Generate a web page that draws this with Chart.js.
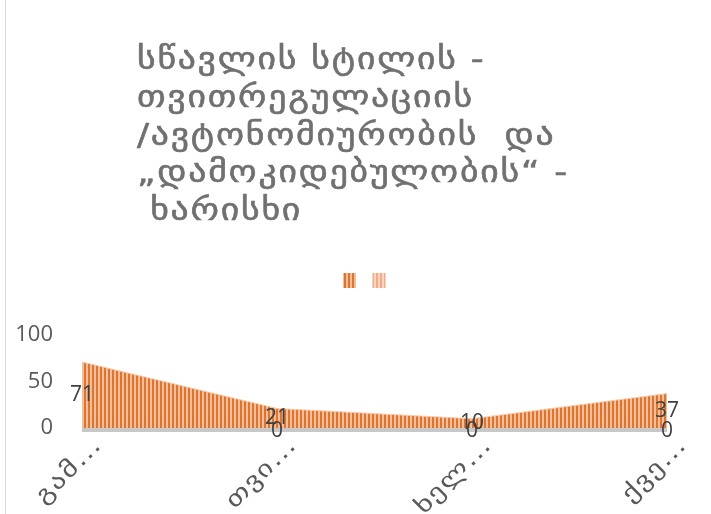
<!DOCTYPE html>
<html>
<head>
<meta charset="utf-8">
<script src="https://cdn.jsdelivr.net/npm/chart.js@4.4.1/dist/chart.umd.min.js"></script>
<style>
  html, body { margin: 0; padding: 0; background: #fff; }
  .wrap { position: relative; width: 711px; height: 514px; }
  .wrap::before { content: ''; position: absolute; left: 5px; top: 0; bottom: 0; width: 1px; background: #d9d9d9; }
</style>
</head>
<body>
<div class="wrap"><canvas id="chart" width="711" height="514"></canvas></div>
<script>
const titleLines = ['სწავლის სტილის -', 'თვითრეგულაციის', '/ავტონომიურობის  და', '„დამოკიდებულობის“ -', ' ხარისხი'];
const categories = ['გამ…', 'თვი…', 'ხელ…', 'ქვე…'];
const seriesMain = [71, 21, 10, 37];
const seriesSecond = [0, 0, 0, 0];
const yTicks = [0, 50, 100];

const textGrey = '#595959';

// vertical stripe fill like the office pattern
const stripes = (dark, light) => {
  const tile = document.createElement('canvas');
  tile.width = 4;
  tile.height = 4;
  const g = tile.getContext('2d');
  g.fillStyle = light;
  g.fillRect(0, 0, 4, 4);
  g.fillStyle = dark;
  g.fillRect(0, 0, 2, 4);
  return g.createPattern(tile, 'repeat');
};

const titleBlock = {
  id: 'titleBlock',
  beforeDraw: (chart) => {
    const { ctx } = chart;
    ctx.save();
    ctx.font = '30px "DejaVu Sans"';
    ctx.letterSpacing = '1.5px';
    ctx.fillStyle = '#707070';
    ctx.strokeStyle = '#707070';
    ctx.lineWidth = 0.6;
    ctx.textAlign = 'left';
    ctx.textBaseline = 'alphabetic';
    ctx.translate(137, 0);
    ctx.scale(1.19, 1);
    titleLines.forEach((line, i) => {
      ctx.fillText(line, 0, 69 + i * 37.8);
      ctx.strokeText(line, 0, 69 + i * 37.8);
    });
    ctx.restore();
  }
};

// extra room between the legend and the plot, legend nudged right
const legendGap = {
  id: 'legendGap',
  beforeLayout: (chart) => {
    const legend = chart.legend;
    if (!legend || legend._gapWrapped) return;
    const fit = legend.fit;
    legend.fit = function () {
      fit.call(this);
      this.height += 37;
    };
    legend._gapWrapped = true;
  },
  afterLayout: (chart) => {
    if (!chart.legend) return;
    chart.legend.left += 31;
    chart.legend.right += 31;
  }
};

// grey shadow strip under the area and the slanted category labels
const axisDecor = {
  id: 'axisDecor',
  beforeDatasetsDraw: (chart) => {
    const { ctx, scales: { x, y } } = chart;
    const x0 = x.getPixelForValue(0);
    const x1 = x.getPixelForValue(categories.length - 1);
    ctx.save();
    ctx.fillStyle = '#c8c8c8';
    ctx.fillRect(x0, y.getPixelForValue(0) - 2, x1 - x0, 6);
    ctx.restore();
  },
  afterDraw: (chart) => {
    const { ctx, scales: { x, y } } = chart;
    const base = y.getPixelForValue(0);
    ctx.save();
    ctx.font = '23px "DejaVu Sans"';
    ctx.letterSpacing = '1px';
    ctx.fillStyle = textGrey;
    ctx.textAlign = 'right';
    ctx.textBaseline = 'alphabetic';
    categories.forEach((label, i) => {
      ctx.save();
      ctx.translate(x.getPixelForValue(i) + 21, base + 18);
      ctx.rotate(-Math.PI / 4);
      ctx.scale(1.3, 1);
      ctx.fillText(label, 0, 0);
      ctx.restore();
    });
    ctx.restore();
  }
};

const valueLabels = {
  id: 'valueLabels',
  afterDatasetsDraw: (chart) => {
    const { ctx, scales: { x, y } } = chart;
    ctx.save();
    ctx.font = '21px "Open Sans"';
    ctx.fillStyle = '#404040';
    ctx.textAlign = 'center';
    ctx.textBaseline = 'middle';
    chart.data.datasets.forEach((ds, di) => {
      ds.data.forEach((v, i) => {
        if (di === 1 && i === 0) return;
        ctx.fillText(`${v}`, x.getPixelForValue(i), y.getPixelForValue(v / 2) + (di === 1 ? 3 : 0));
      });
    });
    ctx.restore();
  }
};

new Chart(document.getElementById('chart'), {
  type: 'line',
  data: {
    labels: categories,
    datasets: [
      {
        label: '',
        data: seriesMain,
        backgroundColor: stripes('#dc7432', '#f4bf98'),
        borderColor: '#f8cbad',
        borderWidth: 1,
        fill: 'origin',
        pointRadius: 0,
        tension: 0
      },
      {
        label: '',
        data: seriesSecond,
        backgroundColor: stripes('#f2a985', '#fad6c2'),
        borderColor: 'rgba(0,0,0,0)',
        borderWidth: 0,
        fill: 'origin',
        pointRadius: 0,
        tension: 0
      }
    ]
  },
  options: {
    responsive: false,
    animation: false,
    layout: { padding: { top: 257, left: 0, right: 44, bottom: 0 } },
    plugins: {
      legend: {
        position: 'top',
        labels: {
          boxWidth: 13,
          boxHeight: 15,
          padding: 16,
          font: { size: 1 },
          generateLabels: (chart) => chart.data.datasets.map((ds, i) => ({
            text: '',
            fillStyle: ds.backgroundColor,
            strokeStyle: 'rgba(0,0,0,0)',
            lineWidth: 0,
            datasetIndex: i,
            hidden: false
          }))
        }
      },
      title: { display: false },
      tooltip: { enabled: false }
    },
    scales: {
      x: {
        offset: false,
        grid: { display: false },
        border: { display: false },
        afterFit: (axis) => { axis.height = 86; },
        ticks: { display: false }
      },
      y: {
        min: 0,
        max: 100,
        grid: { display: false },
        border: { display: false },
        afterFit: (axis) => { axis.width = 82; },
        afterBuildTicks: (axis) => { axis.ticks = yTicks.map((value) => ({ value })); },
        ticks: {
          color: textGrey,
          font: { family: '"Open Sans"', size: 22 },
          padding: 21
        }
      }
    }
  },
  plugins: [titleBlock, legendGap, axisDecor, valueLabels]
});
</script>
</body>
</html>
